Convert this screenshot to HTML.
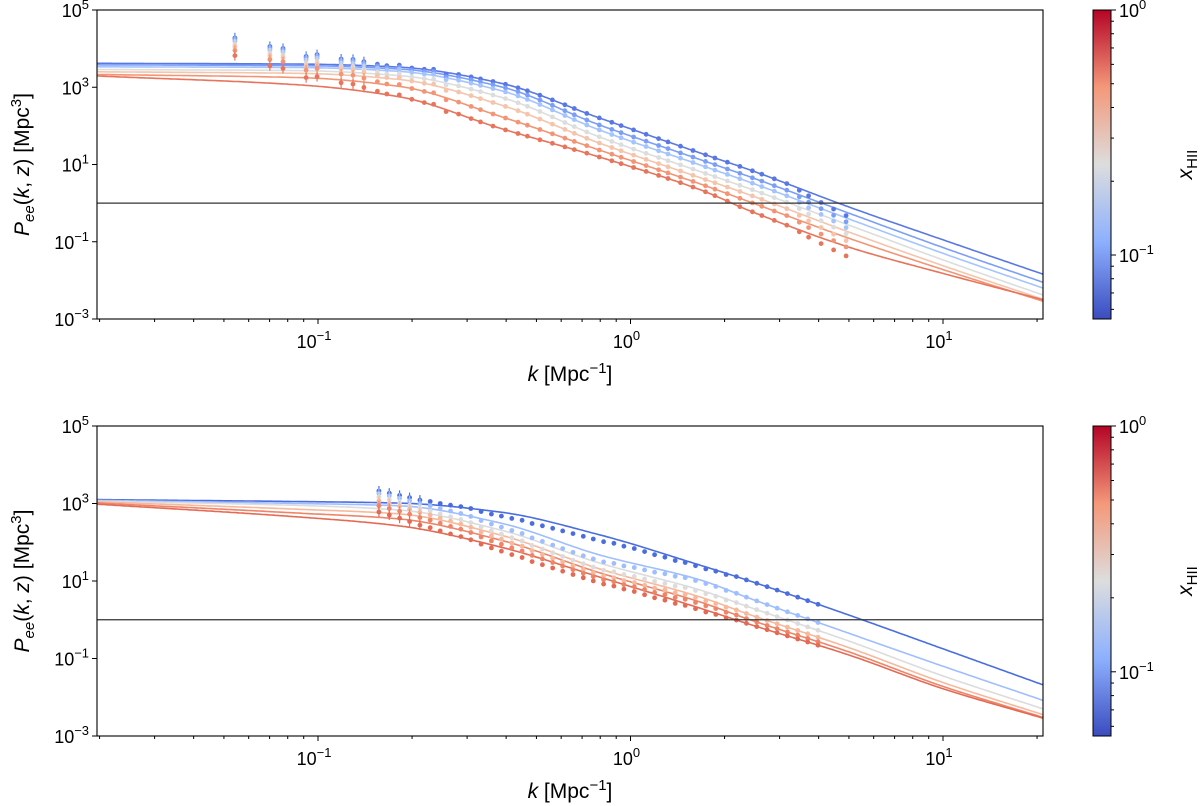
<!DOCTYPE html>
<html><head><meta charset="utf-8">
<style>
html,body{margin:0;padding:0;background:#fff;}
svg{display:block;font-family:"Liberation Sans","DejaVu Sans",sans-serif;}
</style></head>
<body>
<svg id="fig" width="1200" height="806" viewBox="0 0 1200 806" xmlns="http://www.w3.org/2000/svg">
<defs>
<linearGradient id="cw" x1="0" y1="1" x2="0" y2="0">
<stop offset="0" stop-color="#3b4cc0"/><stop offset="0.25" stop-color="#8db0fe"/><stop offset="0.5" stop-color="#dddddd"/><stop offset="0.75" stop-color="#f4987a"/><stop offset="1" stop-color="#b40426"/>
</linearGradient>
</defs>
</svg>
<script>
// ---- data ----
const logKGrid = [-1.7,-1.058,-0.738,-0.418,-0.098,0.222,0.382,0.699,1.0,1.32];
const topColors = ["#5a78e4","#7b9ff9","#a5c4fe","#dcdddd","#f5c4ac","#f39475","#e7745b"];
const topLogP1 = [3.62,3.60,3.52,3.11,2.20,1.30,0.86,-0.10,-0.95,-1.84];
const topLogP2 = [3.58,3.56,3.47,3.02,2.02,1.13,0.68,-0.26,-1.15,-2.05];
const topLogP3 = [3.53,3.51,3.41,2.92,1.89,0.99,0.54,-0.41,-1.30,-2.20];
const topLogP4 = [3.46,3.43,3.30,2.75,1.71,0.82,0.37,-0.57,-1.47,-2.38];
const topLogP5 = [3.40,3.36,3.20,2.55,1.55,0.66,0.21,-0.75,-1.62,-2.49];
const topLogP6 = [3.33,3.25,3.02,2.25,1.37,0.50,0.03,-0.91,-1.72,-2.54];
const topLogP7 = [3.29,3.06,2.75,1.94,1.19,0.35,-0.20,-1.14,-1.82,-2.50];
const topDotLogK = [-1.266,-1.154,-1.112,-1.038,-1.003,-0.926,-0.888,-0.853,-0.81,-0.78,-0.74,-0.70,-0.66,-0.63,-0.59,-0.55,-0.51,-0.48,-0.44,-0.40,-0.36,-0.33,-0.29,-0.25,-0.21,-0.18,-0.14,-0.10,-0.06,-0.03,0.01,0.05,0.09,0.12,0.16,0.20,0.24,0.27,0.31,0.35,0.39,0.42,0.46,0.50,0.54,0.57,0.61,0.65,0.69];
const topDotExcess = [0.67,0.45,0.40,0.20,0.25,0.15,0.15,0.10,0.05,0.02,0.05,0.0,0.0,0.03,-0.05,0.0,0,0,0,0,0,0,0,0,0,0,0,0,0,0,0,0,0,0,0,0,0,0,0,0,0,0,0,0,-0.05,-0.1,-0.15,-0.2,-0.25];
const botColors = ["#4a6ddf","#9ebeff","#dddcdc","#f7b89c","#ee8468","#e36a53"];
const botLogP1 = [3.10,3.05,3.01,2.78,2.19,1.41,1.00,0.12,-0.75,-1.68];
const botLogP2 = [3.08,3.00,2.94,2.50,1.67,1.03,0.55,-0.35,-1.20,-2.08];
const botLogP3 = [3.06,2.95,2.83,2.32,1.46,0.77,0.32,-0.55,-1.45,-2.30];
const botLogP4 = [3.04,2.85,2.73,2.19,1.31,0.59,0.13,-0.72,-1.62,-2.45];
const botLogP5 = [3.01,2.75,2.60,2.06,1.21,0.46,0.00,-0.83,-1.72,-2.52];
const botLogP6 = [2.98,2.65,2.42,1.88,1.10,0.30,-0.12,-0.91,-1.78,-2.54];
const botDotLogK = [-0.805,-0.772,-0.739,-0.707,-0.674,-0.641,-0.609,-0.576,-0.543,-0.511,-0.478,-0.445,-0.413,-0.380,-0.347,-0.315,-0.282,-0.249,-0.217,-0.184,-0.151,-0.119,-0.086,-0.053,-0.021,0.012,0.045,0.077,0.110,0.143,0.175,0.208,0.241,0.273,0.306,0.339,0.371,0.404,0.437,0.469,0.502,0.535,0.567,0.600];
const botDotExcess = [0.30,0.25,0.20,0.15,0.10,0.08,0.05,0.03,0.02,0,-0.05,-0.08,-0.1,-0.12,-0.12,-0.15,-0.15,-0.15,-0.15,-0.15,-0.15,-0.15,-0.15,-0.12,-0.12,-0.1,-0.1,-0.1,-0.08,-0.08,-0.05,-0.05,-0.05,-0.03,-0.03,0,0,0,0,0,0,0,0,0];
const yTickExp = [5,3,1,-1,-3];
const xTickExp = [-1,0,1];

const NS="http://www.w3.org/2000/svg";
const svg=document.getElementById('fig');
function mk(tag,attrs,parent){const e=document.createElementNS(NS,tag);for(const a in attrs)e.setAttribute(a,attrs[a]);(parent||svg).appendChild(e);return e;}
const X0=97,X1=1043;
const pxPerDec=312.5;
function xs(lk){return 318+(lk+1)*pxPerDec;}
const lkMin=-1-(318-X0)/pxPerDec, lkMax=1+(X1-318-2*pxPerDec)/pxPerDec;
const G=logKGrid;

function interp(vals,lk){
  const n=G.length;
  const m=[];
  for(let i=0;i<n;i++){
    if(i==0) m.push((vals[1]-vals[0])/(G[1]-G[0]));
    else if(i==n-1) m.push((vals[n-1]-vals[n-2])/(G[n-1]-G[n-2]));
    else {
      const d0=(vals[i]-vals[i-1])/(G[i]-G[i-1]), d1=(vals[i+1]-vals[i])/(G[i+1]-G[i]);
      m.push(d0*d1<=0?0:(2*d0*d1)/(d0+d1));
    }
  }
  if(lk<=G[0]) return vals[0]+m[0]*(lk-G[0]);
  if(lk>=G[n-1]) return vals[n-1]+m[n-1]*(lk-G[n-1]);
  let i=0;while(lk>G[i+1])i++;
  const h=G[i+1]-G[i],t=(lk-G[i])/h;
  const h00=2*t*t*t-3*t*t+1,h10=t*t*t-2*t*t+t,h01=-2*t*t*t+3*t*t,h11=t*t*t-t*t;
  return h00*vals[i]+h10*h*m[i]+h01*vals[i+1]+h11*h*m[i+1];
}

function sup(parent,x,y,base,exp,anchor,size){
  const t=mk('text',{x:x,y:y,'text-anchor':anchor,'font-size':size,fill:'#000'},parent);
  t.appendChild(document.createTextNode(base));
  const s=mk('tspan',{dy:-8,'font-size':size*0.72},t);s.textContent=exp;
  return t;
}

function panel(name,top,bottom,curves,colors,dotLK,dotEx){
  const g=mk('g',{});
  
  
  const perDec=(bottom-top)/8;
  const ys=lp=>top+(5-lp)*perDec;
  const clip=mk('clipPath',{id:'clip-'+name},g);mk('rect',{x:X0,y:top,width:X1-X0,height:bottom-top},clip);
  const plot=mk('g',{'clip-path':'url(#clip-'+name+')'},g);
  curves.forEach((c,ci)=>{
    let d='';
    for(let px=X0;px<=X1;px+=2){const lk=lkMin+(px-X0)/pxPerDec;d+=(d?'L':'M')+px.toFixed(1)+','+ys(interp(c,lk)).toFixed(1);}
    const p=mk('path',{d:d,fill:'none',stroke:colors[ci],'stroke-width':1.6},plot);
    
    
  });
  curves.forEach((c,ci)=>{
    dotLK.forEach((lk,i)=>{
      const v=interp(c,lk)+dotEx[i];
      const cx=xs(lk),cy=ys(v);
      if(i<8 && dotEx[i]>0.08){mk('line',{x1:cx,x2:cx,y1:cy-5,y2:cy+5,stroke:colors[ci],'stroke-width':1.2},plot);}
      const d=mk('circle',{cx:cx.toFixed(1),cy:cy.toFixed(1),r:2.4,fill:colors[ci]},plot);
      
      
    });
  });
  const hl=mk('line',{x1:X0,x2:X1,y1:ys(0),y2:ys(0),stroke:'#333','stroke-width':1.3},g);
  
  
  const fr=mk('rect',{x:X0,y:top,width:X1-X0,height:bottom-top,fill:'none',stroke:'#000','stroke-width':1.1},g);
  
  
  yTickExp.forEach(e=>{
    const y=ys(e);mk('line',{x1:X0-5,x2:X0,y1:y,y2:y,stroke:'#000'},g);
    const t=sup(g,X0-8,y+7,'10',String(e).replace('-','\u2212'),'end',18);
    
    
  });
  for(let dec=-2;dec<=1;dec++){
    for(let mm=1;mm<=9;mm++){
      const lk=dec+Math.log10(mm);if(lk<lkMin||lk>lkMax)continue;
      const x=xs(lk);mk('line',{x1:x,x2:x,y1:bottom,y2:bottom+(mm==1?5:3),stroke:'#000'},g);
    }
  }
  xTickExp.forEach(e=>{
    const t=sup(g,xs(e)-4,bottom+29,'10',String(e).replace('-','\u2212'),'middle',18);
    
    
  });
  const xl=mk('text',{x:570,y:bottom+62,'text-anchor':'middle','font-size':21},g);
  xl.innerHTML='<tspan font-style="italic">k</tspan> [Mpc<tspan dy="-8" font-size="15">\u22121</tspan><tspan dy="8">]</tspan>';
  
  
  const yc=(top+bottom)/2;
  const yl=mk('text',{x:0,y:0,'text-anchor':'middle','font-size':21,transform:'translate(29,'+yc+') rotate(-90)'},g);
  yl.innerHTML='<tspan font-style="italic">P</tspan><tspan font-style="italic" font-size="15" dy="5">ee</tspan><tspan dy="-5">(<tspan font-style="italic">k</tspan>, <tspan font-style="italic">z</tspan>) [Mpc</tspan><tspan dy="-8" font-size="15">3</tspan><tspan dy="8">]</tspan>';
  
  
  const cb=mk('g',{},g);
  
  
  mk('rect',{x:1093,y:top,width:18,height:bottom-top,fill:'url(#cw)',stroke:'#000','stroke-width':1},cb);
  const cdec=(bottom-top)*245/309;
  const cy=l=>top+(0-l)*cdec;
  [0,-1].forEach(e=>{const y=cy(e);mk('line',{x1:1111,x2:1116,y1:y,y2:y,stroke:'#000'},cb);
    const t=sup(cb,1119,y+7,'10',String(e).replace('-','\u2212'),'start',18);
    
    });
  for(let mm=2;mm<=9;mm++){const y=cy(-1+Math.log10(mm));if(y<bottom)mk('line',{x1:1111,x2:1114,y1:y,y2:y,stroke:'#000'},cb);}
  for(let mm=6;mm<=9;mm++){const y=cy(-2+Math.log10(mm));if(y<bottom&&y>top)mk('line',{x1:1111,x2:1114,y1:y,y2:y,stroke:'#000'},cb);}
  const cl=mk('text',{x:0,y:0,'text-anchor':'middle','font-size':21,transform:'translate(1192,'+yc+') rotate(-90)'},cb);
  cl.innerHTML='<tspan font-style="italic">x</tspan><tspan font-size="15" dy="5">HII</tspan>';
  
  
}
panel('top-panel',10,319,[topLogP1,topLogP2,topLogP3,topLogP4,topLogP5,topLogP6,topLogP7],topColors,topDotLogK,topDotExcess);
panel('bottom-panel',426,736,[botLogP1,botLogP2,botLogP3,botLogP4,botLogP5,botLogP6],botColors,botDotLogK,botDotExcess);
</script>
</body></html>
